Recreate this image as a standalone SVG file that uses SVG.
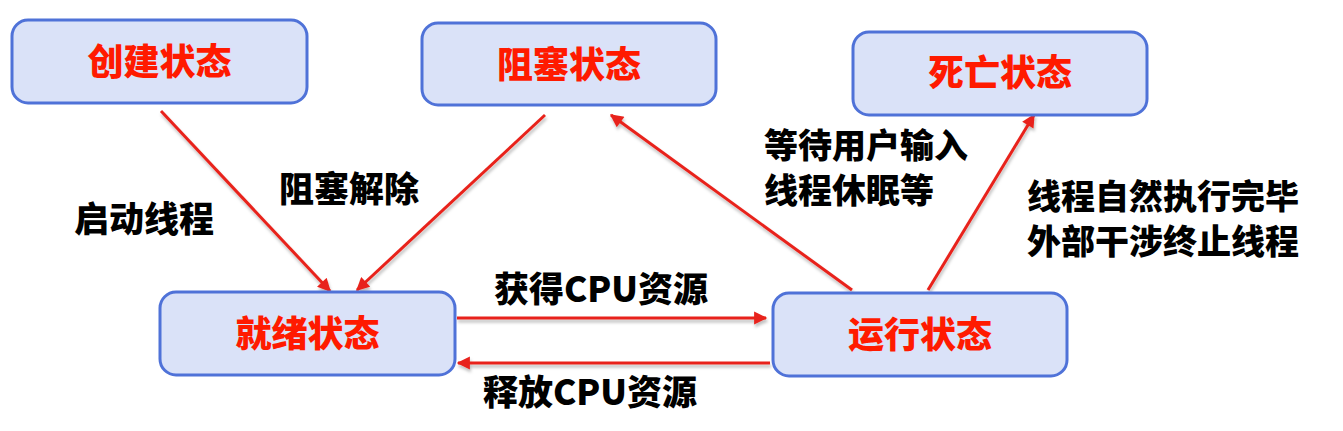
<svg xmlns="http://www.w3.org/2000/svg" width="1343" height="431" viewBox="0 0 1343 431">
<style>
.node rect{fill:#dae2f8;stroke:#4f72d8;stroke-width:3}
.node text{fill:#ff1a00;font-family:"Noto Sans CJK SC","Noto Sans",sans-serif;font-weight:900;font-size:36px;text-anchor:middle}
.lbl{fill:#000;font-family:"Noto Sans CJK SC","Noto Sans",sans-serif;font-weight:900;font-size:35px}
.lbl2{fill:#000;font-family:"Noto Sans CJK SC","Noto Sans",sans-serif;font-weight:900;font-size:34px}
.edge line{stroke:#e8221a;stroke-width:3;marker-end:url(#ah)}
</style>
<defs>
<marker id="ah" viewBox="0 0 10 10" refX="9" refY="5" markerWidth="5" markerHeight="4.4" markerUnits="strokeWidth" orient="auto">
<path d="M0,0 L10,5 L0,10 z" fill="#e8221a"/>
</marker>
<filter id="sh" x="-10%" y="-10%" width="120%" height="120%">
<feDropShadow dx="1" dy="3" stdDeviation="1.5" flood-color="#000" flood-opacity="0.25"/>
</filter>
</defs>
<rect width="1343" height="431" fill="#fff"/>
<g id="edges" filter="url(#sh)">
<g class="edge"><line x1="161" y1="111" x2="330" y2="291"/></g>
<g class="edge"><line x1="545" y1="115" x2="357" y2="290"/></g>
<g class="edge"><line x1="457" y1="318" x2="766" y2="318"/></g>
<g class="edge"><line x1="770" y1="363" x2="458" y2="363"/></g>
<g class="edge"><line x1="852" y1="290" x2="611" y2="115"/></g>
<g class="edge"><line x1="928" y1="290" x2="1034" y2="115"/></g>
</g>
<g id="node-create" class="node"><rect x="12" y="20" width="295" height="83" rx="16"/><text x="159.5" y="75">创建状态</text></g>
<g id="node-blocked" class="node"><rect x="422" y="23" width="294" height="82" rx="16"/><text x="569" y="78">阻塞状态</text></g>
<g id="node-dead" class="node"><rect x="853" y="32" width="294" height="83" rx="16"/><text x="1000" y="86">死亡状态</text></g>
<g id="node-ready" class="node"><rect x="160" y="292" width="295" height="83" rx="16"/><text x="307.5" y="347">就绪状态</text></g>
<g id="node-running" class="node"><rect x="773" y="293" width="294" height="83" rx="16"/><text x="920" y="348">运行状态</text></g>
<g id="labels">
<text class="lbl" x="144" y="232" text-anchor="middle">启动线程</text>
<text class="lbl" x="349" y="202" text-anchor="middle">阻塞解除</text>
<text class="lbl" x="601" y="302" text-anchor="middle">获得CPU资源</text>
<text class="lbl" x="590" y="405" text-anchor="middle">释放CPU资源</text>
<text class="lbl2" x="764" y="158">等待用户输入</text>
<text class="lbl2" x="764" y="203">线程休眠等</text>
<text class="lbl2" x="1027" y="209">线程自然执行完毕</text>
<text class="lbl2" x="1027" y="254">外部干涉终止线程</text>
</g>
</svg>
